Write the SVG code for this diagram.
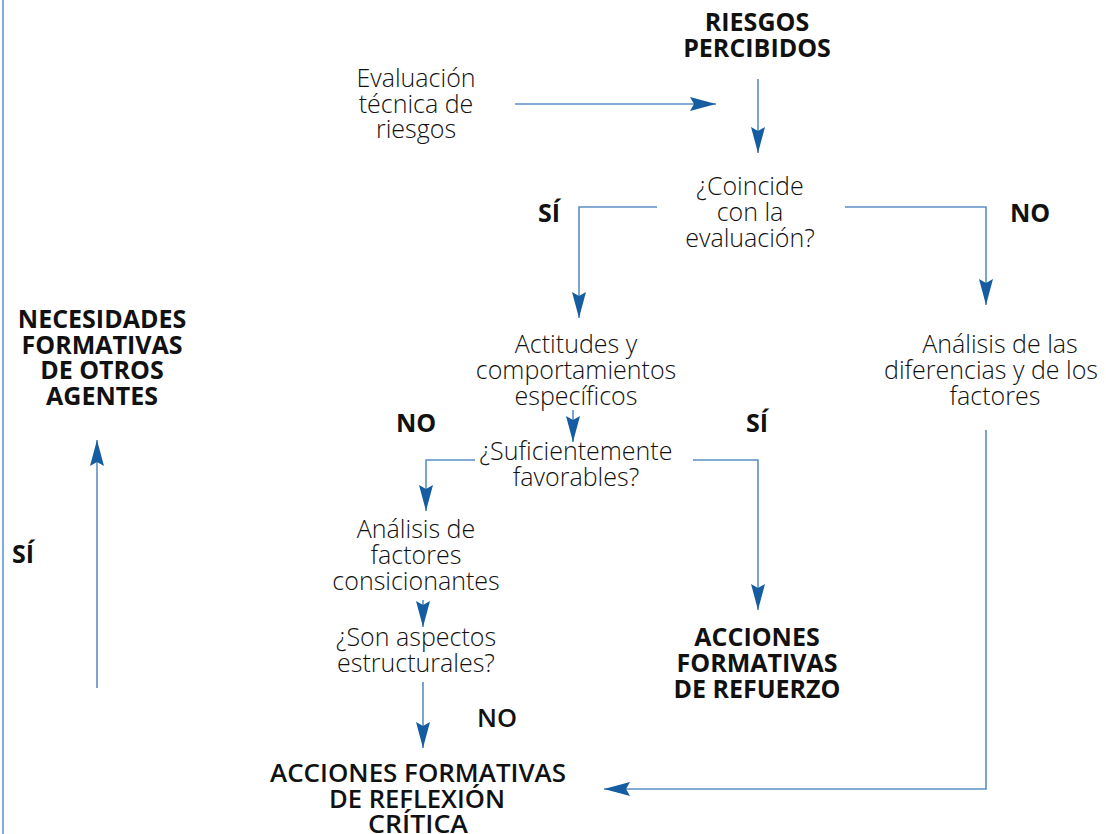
<svg xmlns="http://www.w3.org/2000/svg" width="1106" height="834" viewBox="0 0 1106 834">
<defs>
<marker id="ah" viewBox="0 0 26 14" refX="26" refY="7" markerWidth="26" markerHeight="14" markerUnits="userSpaceOnUse" orient="auto">
<path d="M0,0 L26,7 L0,14 L4,7 Z" fill="#155ca0"/>
</marker>
<style>
.c{fill:none;stroke:#5b8fc4;stroke-width:1.6}
.t{font-family:"Open Sans","Liberation Sans",sans-serif;font-weight:300;font-size:25px;fill:#111;text-anchor:middle}
.b{font-family:"Open Sans","Liberation Sans",sans-serif;font-weight:700;font-size:25px;fill:#111;text-anchor:middle}
.k{font-family:"Open Sans","Liberation Sans",sans-serif;font-weight:600;font-size:26px;fill:#111;text-anchor:middle}
</style>
</defs>
<rect width="1106" height="834" fill="#fff"/>
<line x1="3" y1="0" x2="3" y2="834" stroke="#5b8fc4" stroke-width="1.5"/>
<g id="connectors">
<path class="c" d="M515,104 H716" marker-end="url(#ah)"/>
<path class="c" d="M758,79 V153" marker-end="url(#ah)"/>
<path class="c" d="M657,207 H579 V318" marker-end="url(#ah)"/>
<path class="c" d="M845,207 H986 V305" marker-end="url(#ah)"/>
<path class="c" d="M573,410 V442" marker-end="url(#ah)"/>
<path class="c" d="M475,460 H426 V511" marker-end="url(#ah)"/>
<path class="c" d="M693,460 H758 V610" marker-end="url(#ah)"/>
<path class="c" d="M423,600 V627" marker-end="url(#ah)"/>
<path class="c" d="M423,682 V748" marker-end="url(#ah)"/>
<path class="c" d="M986,430 V789 H604" marker-end="url(#ah)"/>
<path class="c" d="M97,688 V440" marker-end="url(#ah)"/>
</g>
<g id="riesgos"><text class="b" x="757" y="31"><tspan x="757">RIESGOS</tspan><tspan x="757" dy="26">PERCIBIDOS</tspan></text></g>
<g id="evaluacion"><text class="t" x="416" y="87"><tspan x="416">Evaluación</tspan><tspan x="416" dy="25.5">técnica de</tspan><tspan x="416" dy="25.5">riesgos</tspan></text></g>
<g id="coincide"><text class="t" x="750" y="195"><tspan x="750">¿Coincide</tspan><tspan x="750" dy="26">con la</tspan><tspan x="750" dy="26">evaluación?</tspan></text></g>
<g id="lbl-si1"><text class="b" x="549" y="222">SÍ</text></g>
<g id="lbl-no1"><text class="b" x="1030" y="222">NO</text></g>
<g id="actitudes"><text class="t" x="576" y="353"><tspan x="576">Actitudes y</tspan><tspan x="576" dy="26">comportamientos</tspan><tspan x="576" dy="26">específicos</tspan></text></g>
<g id="lbl-no2"><text class="b" x="416" y="432">NO</text></g>
<g id="lbl-si2"><text class="b" x="757" y="432">SÍ</text></g>
<g id="suficientemente"><text class="t" x="576" y="460"><tspan x="576">¿Suficientemente</tspan><tspan x="576" dy="26">favorables?</tspan></text></g>
<g id="analisis-dif"><text class="t" x="996" y="353"><tspan x="1000">Análisis de las</tspan><tspan x="991" dy="26">diferencias y de los</tspan><tspan x="995" dy="26">factores</tspan></text></g>
<g id="analisis-fac"><text class="t" x="416" y="538"><tspan x="416">Análisis de</tspan><tspan x="416" dy="26">factores</tspan><tspan x="416" dy="26">consicionantes</tspan></text></g>
<g id="estructurales"><text class="t" x="416" y="646"><tspan x="416">¿Son aspectos</tspan><tspan x="416" dy="26">estructurales?</tspan></text></g>
<g id="lbl-no3"><text class="k" x="497" y="727" textLength="40" lengthAdjust="spacingAndGlyphs">NO</text></g>
<g id="refuerzo"><text class="b" x="757" y="646"><tspan x="757">ACCIONES</tspan><tspan x="757" dy="26">FORMATIVAS</tspan><tspan x="757" dy="26">DE REFUERZO</tspan></text></g>
<g id="reflexion"><text class="k" x="418" y="782"><tspan x="418" textLength="296" lengthAdjust="spacingAndGlyphs">ACCIONES FORMATIVAS</tspan><tspan x="417" dy="26" textLength="176" lengthAdjust="spacingAndGlyphs">DE REFLEXIÓN</tspan><tspan x="418" dy="25" textLength="100" lengthAdjust="spacingAndGlyphs">CRÍTICA</tspan></text></g>
<g id="necesidades"><text class="b" x="102" y="328"><tspan x="102">NECESIDADES</tspan><tspan x="102" dy="25.7">FORMATIVAS</tspan><tspan x="102" dy="25.7">DE OTROS</tspan><tspan x="102" dy="25.7">AGENTES</tspan></text></g>
<g id="lbl-si4"><text class="b" x="23" y="563">SÍ</text></g>
</svg>
